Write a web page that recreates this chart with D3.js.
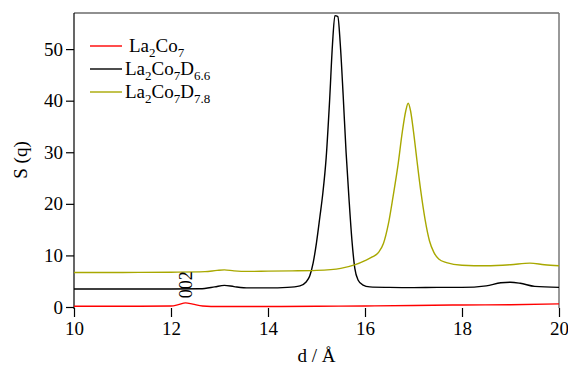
<!DOCTYPE html>
<html>
<head>
<meta charset="utf-8">
<script src="https://cdn.jsdelivr.net/npm/d3@7"></script>
<style>
body { margin: 0; background: #fff; }
svg text { font-family: "Liberation Serif", "DejaVu Serif", serif !important; fill: #000; }
</style>
</head>
<body>
<svg id="chart" width="568" height="367"></svg>
<script>
// d-spacing (Å) and S(q)
const dRed = [10, 11, 12, 12.15, 12.3, 12.45, 12.65, 13, 14, 15, 16, 17, 18, 19, 20];
const sRed = [0.15, 0.15, 0.2, 0.45, 0.8, 0.55, 0.2, 0.1, 0.1, 0.15, 0.2, 0.3, 0.4, 0.45, 0.6];

const dBlack = [10, 11, 12, 12.6, 12.9, 13.1, 13.3, 13.6, 14, 14.4, 14.66, 14.78, 14.86, 14.93, 15, 15.07, 15.13, 15.2, 15.27, 15.33, 15.38,
    15.44, 15.49, 15.55, 15.61, 15.67, 15.73, 15.79, 15.86, 15.95, 16.1, 16.5, 17, 17.5, 18, 18.5, 18.8, 19, 19.2, 19.5, 20];
const sBlack = [3.5, 3.5, 3.5, 3.55, 3.9, 4.2, 3.95, 3.7, 3.7, 3.8, 4.1, 4.8, 6, 8.5, 12.5, 17.5, 22, 29, 40, 51, 56.5,
    56.3, 51, 41, 30, 21, 13, 7.5, 5.2, 4.3, 3.9, 3.8, 3.75, 3.8, 3.8, 4.1, 4.7, 4.8, 4.6, 4.0, 3.8];

const dOlive = [10, 11, 12, 12.7, 12.95, 13.1, 13.3, 13.6, 14, 14.5, 15, 15.5, 15.8, 16, 16.15, 16.28, 16.38, 16.48, 16.58, 16.68, 16.77, 16.84, 16.89,
    16.94, 17, 17.07, 17.15, 17.24, 17.33, 17.42, 17.52, 17.68, 18, 18.5, 19, 19.4, 19.7, 20];
const sOlive = [6.7, 6.7, 6.75, 6.85, 7.1, 7.2, 7.0, 6.9, 6.95, 7.0, 7.1, 7.5, 8.2, 9.0, 9.7, 10.6, 12.3, 16, 21.5, 27.5, 34, 38, 39.5,
    38, 34, 28.5, 22.5, 16.9, 12.8, 10.6, 9.3, 8.6, 8.1, 8.0, 8.2, 8.5, 8.2, 8.0];

const xTicks = [10, 12, 14, 16, 18, 20];
const yTicks = [0, 10, 20, 30, 40, 50];

const series = [
    {parts: [["La", 0], ["2", 1], ["Co", 0], ["7", 1]], d: dRed, s: sRed, color: "#ff0000", pad: 4},
    {parts: [["La", 0], ["2", 1], ["Co", 0], ["7", 1], ["D", 0], ["6.6", 1]], d: dBlack, s: sBlack, color: "#000000", pad: 0},
    {parts: [["La", 0], ["2", 1], ["Co", 0], ["7", 1], ["D", 0], ["7.8", 1]], d: dOlive, s: sOlive, color: "#a8a800", pad: 0}
];

const FONT = "'Liberation Serif', 'DejaVu Serif', serif";

const svg = d3.select("#chart");
const margin = {top: 13, right: 9, bottom: 60, left: 74};
const width = 568 - margin.left - margin.right,
    height = 367 - margin.top - margin.bottom;
const g = svg.append("g").attr("transform", "translate(" + margin.left + "," + margin.top + ")");

const x = d3.scaleLinear().domain([10, 20]).range([0, width]);
const y = d3.scaleLinear().domain([0, 57]).range([height, 0]);

// frame: top and right
g.append("line").attr("x1", 0).attr("x2", width).attr("y1", 0).attr("y2", 0)
    .attr("stroke", "#222").attr("stroke-width", 1.2);
g.append("line").attr("x1", width).attr("x2", width).attr("y1", 0).attr("y2", height + 1)
    .attr("stroke", "#777").attr("stroke-width", 1.5);

const xAxis = g.append("g")
    .attr("transform", "translate(0," + (height + 1) + ")")
    .call(d3.axisBottom(x).tickValues(xTicks).tickSize(9).tickPadding(5).tickFormat(d3.format("d")));
xAxis.attr("font-family", FONT).attr("font-size", 19);
xAxis.select(".domain").remove();
xAxis.selectAll("line").attr("stroke", "#000").attr("stroke-width", 1.2);

const yAxis = g.append("g")
    .call(d3.axisLeft(y).tickValues(yTicks).tickSize(8).tickPadding(3).tickSizeOuter(0));
yAxis.attr("font-family", FONT).attr("font-size", 19);
yAxis.select(".domain").attr("d", "M0," + (height + 2) + "V0").attr("stroke", "#000").attr("stroke-width", 1.2);
yAxis.selectAll("line").attr("stroke", "#000").attr("stroke-width", 1.2);

const line = d3.line()
    .x(d => x(d[0]))
    .y(d => y(d[1]))
    .curve(d3.curveMonotoneX);

series.forEach(sr => {
    g.append("path")
        .datum(sr.d.map((v, i) => [v, sr.s[i]]))
        .attr("fill", "none")
        .attr("stroke", sr.color)
        .attr("stroke-width", 1.4)
        .attr("d", line);
});

// legend
series.forEach((sr, i) => {
    const ly = 33 + i * 23;
    g.append("line").attr("x1", 16).attr("x2", 48).attr("y1", ly).attr("y2", ly)
        .attr("stroke", sr.color).attr("stroke-width", 1.4);
    const t = g.append("text").attr("x", 51 + sr.pad).attr("y", ly + 6)
        .attr("font-family", FONT).attr("font-size", 19);
    let sub = false;
    sr.parts.forEach(p => {
        const ts = t.append("tspan").text(p[0]);
        if (p[1] && !sub) { ts.attr("dy", 5).attr("font-size", 13); sub = true; }
        else if (p[1]) { ts.attr("font-size", 13); }
        else if (sub) { ts.attr("dy", -5); sub = false; }
    });
});

// peak annotation
g.append("text")
    .attr("transform", "translate(" + (x(12.3) + 6) + "," + (y(4.3)) + ") rotate(-90)")
    .attr("text-anchor", "middle")
    .attr("font-family", FONT).attr("font-size", 18)
    .text("002");

// axis titles
svg.append("text")
    .attr("x", margin.left + width / 2).attr("y", 362)
    .attr("text-anchor", "middle").attr("font-family", FONT).attr("font-size", 19)
    .text("d / Å");
svg.append("text")
    .attr("transform", "translate(27," + (margin.top + height / 2) + ") rotate(-90)")
    .attr("text-anchor", "middle").attr("font-family", FONT).attr("font-size", 19)
    .text("S (q)");
</script>
</body>
</html>
